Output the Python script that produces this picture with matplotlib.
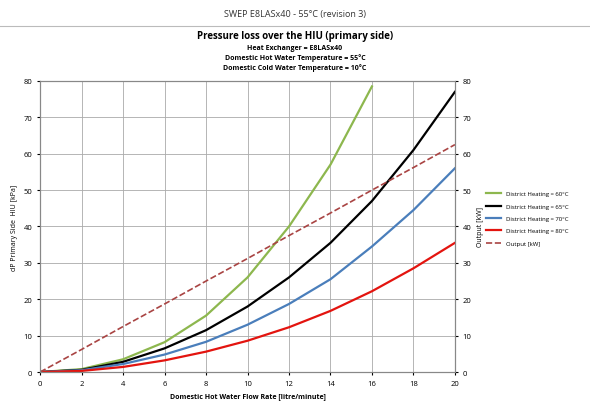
import numpy as np
import matplotlib.pyplot as plt
from matplotlib.lines import Line2D

flow = [0, 2, 4, 6, 8, 10, 12, 14, 16, 18, 20]
dh60 = [0, 0.8, 3.5, 8.2, 15.5, 26, 40, 57, 78.5]
dh65 = [0, 0.6, 2.8, 6.5, 11.5, 18, 26, 35.5, 47, 61, 77]
dh70 = [0, 0.5, 2.2, 4.8, 8.3, 13, 18.7, 25.5, 34.5, 44.5, 56]
dh80 = [0, 0.3, 1.4, 3.2, 5.6, 8.6, 12.3, 16.8, 22.2, 28.5, 35.5]
output_kw = [0, 6.2, 12.5, 18.7, 25, 31.2, 37.5, 43.7, 50, 56.2, 62.5]

fig = plt.figure(figsize=(5.9, 4.14), dpi=100)
plt.rcParams["font.family"] = ["Open Sans", "DejaVu Sans"]
fig.text(0.5, 0.965, "SWEP E8LASx40 - 55°C (revision 3)", ha="center", va="center", fontsize=6.5, color="#333")
fig.add_artist(Line2D([0, 1], [0.935, 0.935], color="#bbb", lw=0.8))
fig.text(0.5, 0.905, "Pressure loss over the HIU (primary side)", ha="center", fontsize=7, fontweight="bold")
fig.text(0.5, 0.88, "Heat Exchanger = E8LASx40", ha="center", fontsize=5, fontweight="bold")
fig.text(0.5, 0.855, "Domestic Hot Water Temperature = 55°C", ha="center", fontsize=5, fontweight="bold")
fig.text(0.5, 0.83, "Domestic Cold Water Temperature = 10°C", ha="center", fontsize=5, fontweight="bold")

ax = fig.add_axes([0.068, 0.099, 0.703, 0.703])
ax2 = ax.twinx()
ax.plot(flow[:len(dh60)], dh60, color="#8DB74E", lw=1.6, label="District Heating = 60°C")
ax.plot(flow, dh65, color="black", lw=1.6, label="District Heating = 65°C")
ax.plot(flow, dh70, color="#4A7EBB", lw=1.6, label="District Heating = 70°C")
ax.plot(flow, dh80, color="#E3140F", lw=1.6, label="District Heating = 80°C")
ax2.plot(flow, output_kw, "--", color="#A94443", lw=1.2, label="Output [kW]")
for a in (ax, ax2):
    a.set_xlim(0, 20)
    a.set_ylim(0, 80)
    a.set_yticks(range(0, 81, 10))
    a.tick_params(labelsize=5.5, length=2)
ax.set_xticks(range(0, 21, 2))
ax.grid(color="#aaa", lw=0.6)
ax.set_xlabel("Domestic Hot Water Flow Rate [litre/minute]", fontsize=5, fontweight="bold")
ax.set_ylabel("dP Primary Side  HIU [kPa]", fontsize=5)
ax2.set_ylabel("Output [kW]", fontsize=5)
for a in (ax, ax2):
    for s in a.spines.values():
        s.set_color("#888")
h1, l1 = ax.get_legend_handles_labels()
h2, l2 = ax2.get_legend_handles_labels()
fig.legend(h1 + h2, l1 + l2, loc="center left", bbox_to_anchor=(0.815, 0.47), fontsize=4.3, frameon=False, handlelength=2.5, labelspacing=1.2)
fig.savefig("out.png")
